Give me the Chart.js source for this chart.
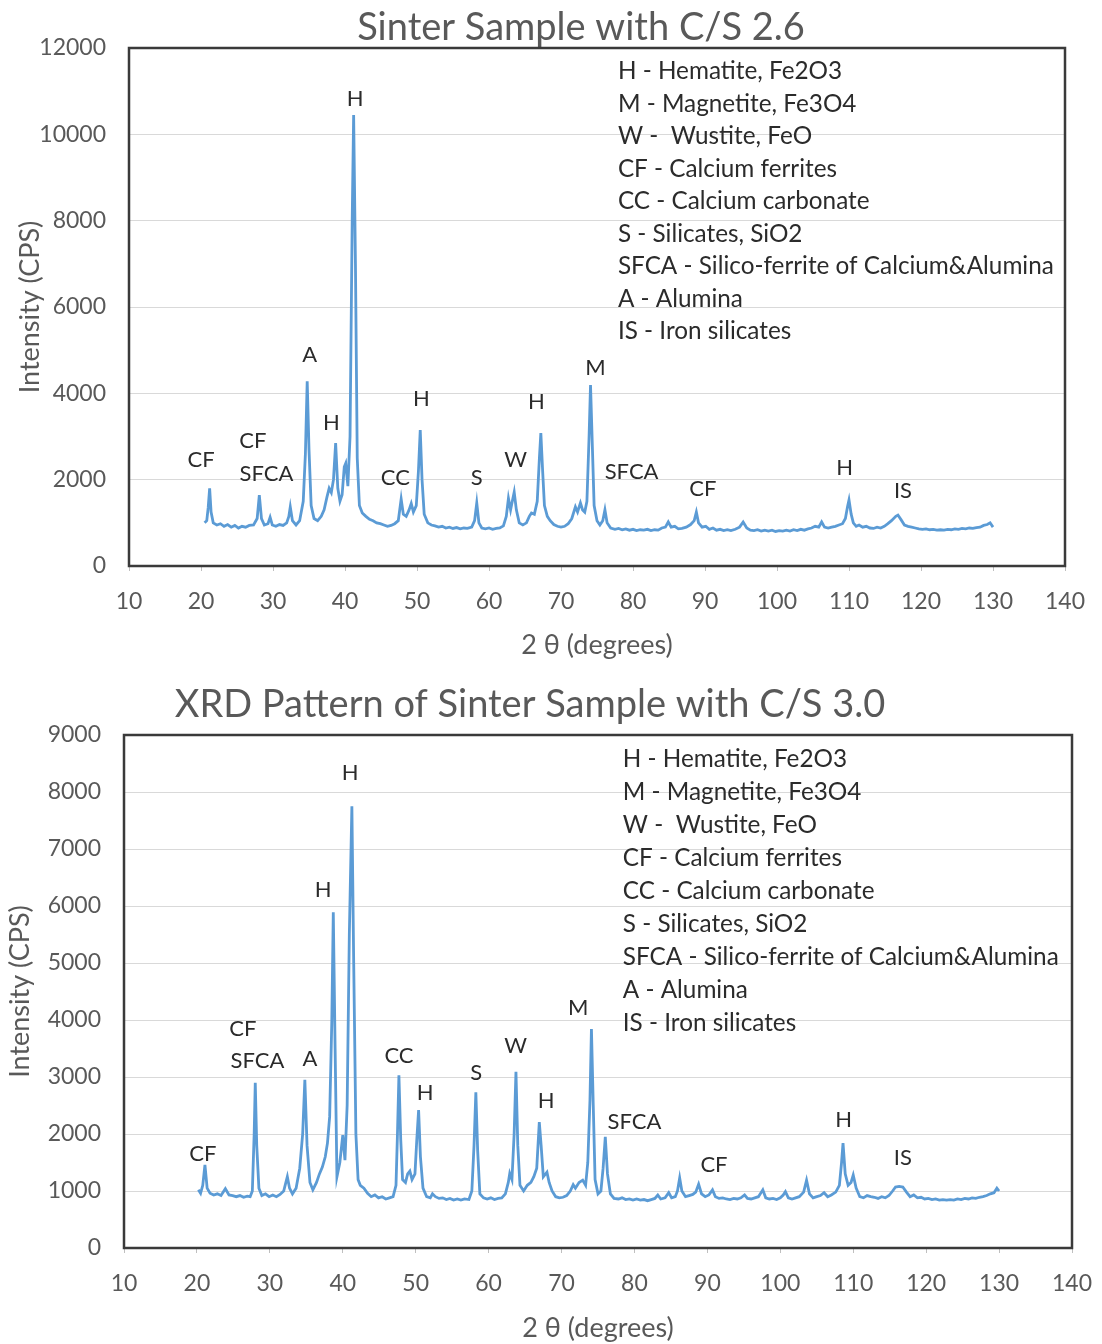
<!DOCTYPE html>
<html>
<head>
<meta charset="utf-8">
<script src="https://cdn.jsdelivr.net/npm/chart.js@4.4.1/dist/chart.umd.min.js"></script>
<style>
  html, body { margin: 0; padding: 0; background: #ffffff; }
  #wrap { position: relative; width: 1102px; height: 1344px; }
  .box { position: absolute; left: 0; width: 1102px; }
  #b1 { top: 0; height: 665px; }
  #b2 { top: 665px; height: 679px; }
</style>
</head>
<body>
<div id="wrap">
  <div class="box" id="b1"><canvas id="c1" width="1102" height="665"></canvas></div>
  <div class="box" id="b2"><canvas id="c2" width="1102" height="679"></canvas></div>
</div>
<script>
// ---------- Sinter sample, C/S 2.6 : diffraction angle (2θ, degrees) and intensity (CPS) ----------
const theta26 = [
  20.5, 20.8, 21.0, 21.2, 21.4, 21.7, 22.2, 22.7, 23.2, 23.7, 24.2, 24.7, 25.2, 25.7, 26.2, 26.7, 27.3, 27.8, 28.1, 28.4,
  28.8, 29.3, 29.6, 29.9, 30.4, 30.9, 31.4, 31.9, 32.2, 32.4, 32.7, 33.2, 33.7, 34.2, 34.5, 34.75, 35.0, 35.3, 35.7, 36.2,
  36.7, 37.1, 37.5, 37.8, 38.1, 38.4, 38.7, 39.0, 39.3, 39.6, 39.9, 40.1, 40.4, 40.7, 41.0, 41.2, 41.45, 41.7, 42.0, 42.4,
  42.9, 43.4, 43.9, 44.4, 44.9, 45.4, 45.9, 46.4, 46.9, 47.4, 47.8, 48.1, 48.5, 48.9, 49.2, 49.5, 49.9, 50.2, 50.45, 50.7,
  51.0, 51.5, 52.0, 52.5, 53.0, 53.5, 54.0, 54.5, 55.0, 55.5, 56.0, 56.5, 57.0, 57.6, 58.0, 58.3, 58.6, 59.0, 59.5, 60.0,
  60.5, 61.0, 61.5, 62.0, 62.4, 62.7, 63.0, 63.3, 63.5, 63.8, 64.2, 64.7, 65.2, 65.6, 65.9, 66.3, 66.7, 67.0, 67.2, 67.45,
  67.7, 68.1, 68.5, 69.0, 69.5, 70.0, 70.5, 71.0, 71.5, 72.0, 72.3, 72.7, 73.0, 73.3, 73.6, 73.9, 74.1, 74.35, 74.6, 75.0,
  75.4, 75.8, 76.1, 76.4, 76.9, 77.5, 78.0, 78.5, 79.0, 79.5, 80.0, 80.5, 81.0, 81.5, 82.0, 82.5, 83.0, 83.5, 84.0, 84.5,
  84.9, 85.3, 85.8, 86.3, 86.8, 87.4, 88.0, 88.5, 88.8, 89.1, 89.6, 90.1, 90.6, 91.1, 91.6, 92.1, 92.6, 93.1, 93.6, 94.2,
  94.8, 95.3, 95.8, 96.3, 96.8, 97.3, 97.8, 98.3, 98.8, 99.3, 99.8, 100.3, 100.8, 101.3, 101.8, 102.3, 102.8, 103.3, 103.8, 104.3,
  104.8, 105.3, 105.8, 106.2, 106.6, 107.1, 107.6, 108.1, 108.6, 109.1, 109.5, 109.8, 110.0, 110.3, 110.6, 111.0, 111.4, 111.9, 112.4, 112.9,
  113.4, 113.9, 114.4, 114.9, 115.4, 115.9, 116.5, 116.8, 117.2, 117.7, 118.2, 118.7, 119.2, 119.7, 120.2, 120.7, 121.2, 121.7, 122.2, 122.7,
  123.2, 123.7, 124.2, 124.7, 125.2, 125.7, 126.2, 126.7, 127.2, 127.7, 128.2, 128.7, 129.2, 129.6, 130.0
];
const cps26 = [
  1000, 1050, 1350, 1800, 1250, 1000, 950, 980, 920, 960, 900, 940, 880, 920, 900, 940, 950, 1100, 1640, 1100,
  950, 980, 1130, 950, 920, 960, 940, 1000, 1150, 1370, 1050, 950, 1050, 1500, 2600, 4280, 2700, 1400, 1100, 1050,
  1150, 1300, 1600, 1800, 1700, 2000, 2850, 1800, 1500, 1650, 2300, 2380, 1850, 3000, 8000, 10450, 7000, 2500, 1400, 1230,
  1150, 1080, 1050, 1000, 980, 950, 920, 940, 980, 1050, 1550, 1200, 1150, 1300, 1450, 1250, 1400, 2200, 3150, 2000,
  1200, 1000, 950, 930, 900, 920, 880, 900, 870, 890, 860, 880, 870, 900, 1050, 1460, 1000, 880, 860, 880,
  850, 870, 880, 930, 1150, 1570, 1300, 1550, 1710, 1300, 1000, 950, 1000, 1150, 1230, 1200, 1500, 2500, 3080, 2200,
  1400, 1150, 1050, 960, 920, 900, 920, 980, 1100, 1370, 1250, 1460, 1300, 1250, 1500, 3000, 4190, 2800, 1400, 1050,
  950, 1050, 1300, 1000, 880, 850, 870, 840, 860, 830, 850, 820, 840, 830, 850, 820, 840, 830, 880, 900,
  1020, 900, 920, 860, 870, 900, 960, 1050, 1250, 1000, 900, 920, 850, 880, 830, 850, 820, 840, 820, 850,
  900, 1020, 880, 830, 820, 840, 810, 830, 810, 830, 800, 820, 810, 830, 810, 840, 820, 850, 830, 860,
  880, 920, 900, 1020, 900, 880, 900, 920, 950, 980, 1100, 1380, 1530, 1200, 1000, 920, 950, 900, 920, 880,
  870, 900, 880, 920, 980, 1050, 1150, 1180, 1080, 950, 920, 900, 880, 860, 850, 860, 840, 850, 830, 840,
  830, 850, 840, 860, 850, 870, 860, 880, 870, 890, 900, 940, 960, 1000, 900
];

// ---------- Sinter sample, C/S 3.0 ----------
const theta30 = [
  20.2, 20.5, 20.8, 21.1, 21.4, 21.8, 22.3, 22.8, 23.3, 23.9, 24.4, 24.9, 25.4, 25.9, 26.4, 26.9, 27.3, 27.6, 27.85, 28.0,
  28.2, 28.5, 28.9, 29.4, 29.9, 30.4, 30.9, 31.4, 31.9, 32.2, 32.4, 32.7, 33.1, 33.6, 34.1, 34.5, 34.8, 35.1, 35.5, 35.9,
  36.4, 36.8, 37.2, 37.6, 37.9, 38.2, 38.5, 38.7, 38.95, 39.2, 39.6, 40.0, 40.3, 40.6, 40.9, 41.25, 41.5, 41.8, 42.1, 42.4,
  42.9, 43.4, 43.9, 44.4, 44.9, 45.4, 45.9, 46.4, 46.9, 47.3, 47.5, 47.7, 47.95, 48.2, 48.6, 48.9, 49.2, 49.5, 49.9, 50.15,
  50.4, 50.65, 51.0, 51.5, 52.0, 52.3, 52.7, 53.2, 53.7, 54.2, 54.7, 55.2, 55.7, 56.2, 56.7, 57.3, 57.7, 58.0, 58.25, 58.5,
  58.8, 59.3, 59.8, 60.3, 60.8, 61.3, 61.8, 62.3, 62.7, 62.9, 63.2, 63.5, 63.75, 64.0, 64.3, 64.8, 65.3, 65.8, 66.2, 66.6,
  66.95, 67.2, 67.5, 68.0, 68.3, 68.7, 69.2, 69.7, 70.2, 70.7, 71.2, 71.6, 71.9, 72.4, 72.9, 73.3, 73.6, 73.9, 74.1, 74.35,
  74.6, 75.0, 75.4, 75.7, 76.0, 76.3, 76.7, 77.2, 77.8, 78.3, 78.8, 79.3, 79.8, 80.3, 80.8, 81.3, 81.8, 82.3, 82.8, 83.2,
  83.6, 84.2, 84.7, 85.1, 85.6, 85.9, 86.2, 86.5, 87.0, 87.5, 88.0, 88.4, 88.8, 89.2, 89.7, 90.2, 90.7, 91.1, 91.6, 92.1,
  92.6, 93.1, 93.6, 94.1, 94.6, 95.1, 95.5, 96.0, 96.5, 97.0, 97.6, 98.0, 98.5, 99.0, 99.5, 100.0, 100.4, 100.7, 101.1, 101.6,
  102.1, 102.6, 103.2, 103.6, 104.0, 104.5, 105.0, 105.5, 106.0, 106.5, 107.0, 107.6, 108.1, 108.4, 108.6, 108.9, 109.3, 109.7, 110.0, 110.4,
  110.9, 111.4, 111.9, 112.4, 112.9, 113.4, 113.9, 114.4, 114.9, 115.4, 115.8, 116.3, 116.8, 117.3, 117.8, 118.3, 118.8, 119.3, 119.8, 120.3,
  120.8, 121.3, 121.8, 122.3, 122.8, 123.3, 123.8, 124.3, 124.8, 125.3, 125.8, 126.3, 126.8, 127.3, 127.8, 128.3, 128.8, 129.3, 129.7, 130.0
];
const cps30 = [
  1020, 960, 1100, 1460, 1050, 960, 930, 950, 920, 1040, 930, 920, 900, 920, 890, 910, 900, 1000, 2000, 2900,
  1800, 1050, 920, 950, 900, 930, 900, 940, 1000, 1150, 1250, 1050, 950, 1050, 1400, 2000, 2950, 1800, 1150, 1020,
  1150, 1300, 1420, 1600, 1840, 2300, 4000, 5890, 3500, 1250, 1500, 1980, 1540, 2500, 5500, 7750, 5000, 2000, 1200, 1100,
  1050, 960, 900, 930, 880, 900, 860, 880, 900, 1100, 2000, 3030, 1900, 1200, 1150, 1300, 1350, 1200, 1300, 1900,
  2420, 1600, 1050, 900, 880, 950, 900, 870, 880, 850, 870, 840, 860, 840, 860, 850, 1000, 1800, 2730, 1700,
  950, 880, 860, 880, 850, 870, 880, 950, 1150, 1310, 1200, 2000, 3090, 1800, 1100, 1000, 1100, 1150, 1250, 1400,
  2210, 1800, 1250, 1330, 1150, 1000, 900, 880, 890, 920, 1000, 1110, 1050, 1150, 1190, 1100, 1500, 2600, 3840, 2500,
  1200, 950, 1000, 1400, 1950, 1300, 950, 870, 860, 880, 850, 860, 840, 860, 840, 850, 830, 850, 870, 930,
  860, 880, 970, 880, 900, 1000, 1230, 1000, 900, 920, 940, 980, 1120, 950, 900, 930, 1020, 900, 870, 880,
  860, 850, 870, 860, 880, 930, 870, 860, 880, 900, 1020, 880, 860, 870, 850, 880, 930, 990, 880, 860,
  880, 900, 980, 1190, 950, 880, 900, 920, 970, 900, 930, 980, 1100, 1500, 1840, 1300, 1100, 1150, 1280, 1050,
  900, 880, 920, 900, 890, 870, 900, 880, 920, 1000, 1070, 1080, 1070, 980, 900, 930, 880, 890, 860, 870,
  850, 860, 840, 850, 840, 850, 840, 860, 850, 870, 860, 880, 870, 890, 900, 920, 950, 970, 1050, 1000
];

// ---------- phase key and peak identifications ----------
const phaseKey = [
  'H - Hematite, Fe2O3',
  'M - Magnetite, Fe3O4',
  'W -  Wustite, FeO',
  'CF - Calcium ferrites',
  'CC - Calcium carbonate',
  'S - Silicates, SiO2',
  'SFCA - Silico-ferrite of Calcium&Alumina',
  'A - Alumina',
  'IS - Iron silicates'
];

const peakText26  = ['CF', 'CF', 'SFCA', 'A', 'H', 'H', 'CC', 'H', 'S', 'W', 'H', 'M', 'SFCA', 'CF', 'H', 'IS'];
const peakTheta26 = [20.0, 27.2, 29.1, 35.1, 38.1, 41.4, 47.0, 50.6, 58.3, 63.7, 66.6, 74.8, 79.8, 89.7, 109.4, 117.5];
const peakCps26   = [2450, 2890, 2130, 4880, 3310, 10830, 2040, 3870, 2040, 2450, 3800, 4580, 2180, 1780, 2270, 1740];

const peakText30  = ['CF', 'CF', 'SFCA', 'A', 'H', 'H', 'CC', 'H', 'S', 'W', 'H', 'M', 'SFCA', 'CF', 'H', 'IS'];
const peakTheta30 = [20.8, 26.3, 28.3, 35.5, 37.3, 41.0, 47.7, 51.3, 58.3, 63.7, 67.9, 72.3, 80.0, 90.9, 108.7, 116.8];
const peakCps30   = [1650, 3840, 3280, 3320, 6280, 8330, 3370, 2720, 3070, 3540, 2580, 4210, 2210, 1460, 2250, 1580];

// top-left corner of the phase key, in axis units
const keyAnchor26 = { theta: 77.9, cps: 11458 };
const keyAnchor30 = { theta: 78.4, cps: 8580 };

const FONT = 'Lato, "Open Sans", sans-serif';
const INK = '#2b2b2b';
const AXIS_INK = '#595959';
const LINE_BLUE = '#5B9BD5';

// Draws the peak letters, the phase key, the heading and the plot frame.
function xrdDecor(cfg) {
  return {
    id: 'xrdDecor',
    afterDatasetsDraw(chart) {
      const { ctx, chartArea: a } = chart;
      const xs = chart.scales.x, ys = chart.scales.y;
      ctx.save();
      ctx.fillStyle = INK;
      ctx.font = cfg.labelFont;
      ctx.textAlign = 'center';
      ctx.textBaseline = 'middle';
      cfg.text.forEach((t, i) => {
        ctx.fillText(t, xs.getPixelForValue(cfg.theta[i]), ys.getPixelForValue(cfg.cps[i]));
      });
      ctx.textAlign = 'left';
      ctx.font = cfg.keyFont;
      const kx = xs.getPixelForValue(cfg.key.theta);
      const ky = ys.getPixelForValue(cfg.key.cps);
      phaseKey.forEach((t, i) => ctx.fillText(t, kx, ky + i * cfg.keyStep));

      ctx.fillStyle = AXIS_INK;
      ctx.font = cfg.titleFont;
      ctx.textAlign = 'center';
      ctx.fillText(cfg.title, cfg.titleX, cfg.titleY);

      ctx.strokeStyle = '#3a3a3a';
      ctx.lineWidth = 2.5;
      ctx.strokeRect(a.left, a.top, a.right - a.left, a.bottom - a.top);
      ctx.restore();
    }
  };
}

function makeChart(canvasId, theta, cps, yMax, yStep, geom, decor) {
  const points = theta.map((t, i) => ({ x: t, y: cps[i] }));
  return new Chart(document.getElementById(canvasId), {
    type: 'line',
    data: {
      datasets: [{
        data: points,
        borderColor: LINE_BLUE,
        borderWidth: 2.8,
        pointRadius: 0,
        tension: 0,
        fill: false
      }]
    },
    options: {
      responsive: false,
      animation: false,
      events: [],
      layout: { padding: { top: geom.top, right: geom.right, left: 0, bottom: 0 } },
      plugins: { legend: { display: false }, tooltip: { enabled: false }, title: { display: false } },
      scales: {
        x: {
          type: 'linear',
          min: 10, max: 140,
          ticks: { stepSize: 10, color: AXIS_INK, font: { family: FONT, size: 23 }, padding: geom.xTickPad, maxRotation: 0,
                   callback: v => String(v) },
          grid: { drawOnChartArea: false, drawTicks: true, tickLength: 5, color: '#bfbfbf' },
          border: { display: false },
          title: { display: true, text: '2 θ (degrees)', color: AXIS_INK, font: { family: FONT, size: 27 }, padding: { top: 0, bottom: geom.xTitlePad } },
          afterFit(s) { s.height = geom.xHeight; s.paddingLeft = 0; s.paddingRight = 0; }
        },
        y: {
          min: 0, max: yMax,
          ticks: { stepSize: yStep, color: AXIS_INK, font: { family: FONT, size: 23 }, padding: 23,
                   callback: v => String(v) },
          grid: { color: '#d9d9d9', drawTicks: false, lineWidth: 1 },
          border: { display: false },
          title: { display: true, text: 'Intensity (CPS)', color: AXIS_INK, font: { family: FONT, size: 27 }, padding: { top: geom.yTitlePad, bottom: 0 } },
          afterFit(s) { s.width = geom.yWidth; }
        }
      }
    },
    plugins: [xrdDecor(decor)]
  });
}

makeChart('c1', theta26, cps26, 12000, 2000,
  { top: 48, right: 37, xHeight: 99, yWidth: 129, xTickPad: 17, xTitlePad: 4, yTitlePad: 14 },
  { text: peakText26, theta: peakTheta26, cps: peakCps26, key: keyAnchor26, keyStep: 32.5,
    labelFont: '22px ' + FONT, keyFont: '24.3px ' + FONT,
    title: 'Sinter Sample with C/S 2.6', titleFont: '38px ' + FONT, titleX: 581, titleY: 28 });

makeChart('c2', theta30, cps30, 9000, 1000,
  { top: 70, right: 30, xHeight: 96, yWidth: 124, xTickPad: 17, xTitlePad: 0, yTitlePad: 4 },
  { text: peakText30, theta: peakTheta30, cps: peakCps30, key: keyAnchor30, keyStep: 33,
    labelFont: '22px ' + FONT, keyFont: '24.3px ' + FONT,
    title: 'XRD Pattern of Sinter Sample with C/S 3.0', titleFont: '38px ' + FONT, titleX: 530, titleY: 40 });
</script>
</body>
</html>
